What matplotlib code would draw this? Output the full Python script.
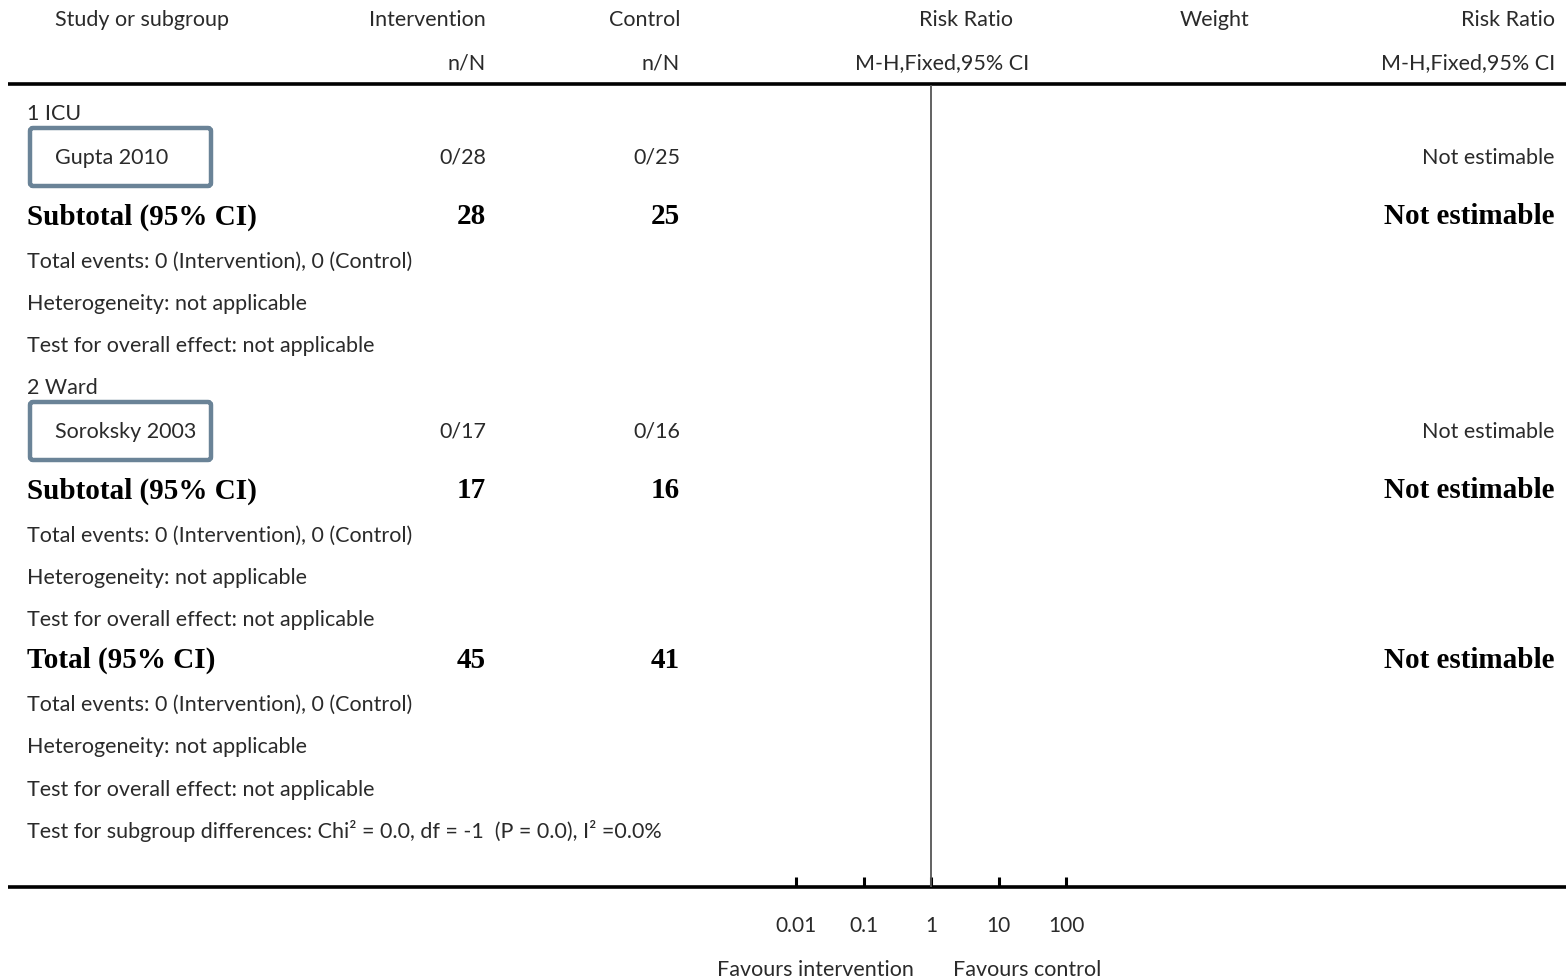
import matplotlib.pyplot as plt
from matplotlib.patches import FancyBboxPatch

# data
subgroups = ["1 ICU", "2 Ward"]
studies = ["Gupta 2010", "Soroksky 2003"]
int_events = [0, 0]
int_total = [28, 17]
ctl_events = [0, 0]
ctl_total = [25, 16]
rr_ticks = [0.01, 0.1, 1, 10, 100]
rr_labels = ["0.01", "0.1", "1", "10", "100"]

W, H = 1566, 977
fig = plt.figure(figsize=(W / 100, H / 100), dpi=100)
ax = fig.add_axes([0, 0, 1, 1])
ax.set_xlim(0, W)
ax.set_ylim(H, 0)
ax.axis("off")

sans = "Lato"
serif = "Liberation Serif"
col = "#2a2a2a"
fs = 15.5
bfs = 21

def txt(x, y, s, ha="left", bold=False, **kw):
    if bold:
        ax.text(x, y + 2, s, ha=ha, va="center", fontsize=bfs, fontweight="bold",
                family=serif, color="black", **kw)
    else:
        ax.text(x, y + 1.5, s, ha=ha, va="center", fontsize=fs, family=sans,
                color=col, **kw)

# header
txt(55, 19, "Study or subgroup")
txt(486, 19, "Intervention", ha="right")
txt(486, 62, "n/N", ha="right")
txt(680, 19, "Control", ha="right")
txt(680, 62, "n/N", ha="right")
txt(966, 19, "Risk Ratio", ha="center")
txt(942, 62, "M-H,Fixed,95% CI", ha="center")
txt(1215, 19, "Weight", ha="center")
txt(1555, 19, "Risk Ratio", ha="right")
txt(1555, 62, "M-H,Fixed,95% CI", ha="right")
ax.plot([8, W], [84, 84], color="black", lw=2.6, solid_capstyle="butt")

het = ["Total events: 0 (Intervention), 0 (Control)",
       "Heterogeneity: not applicable",
       "Test for overall effect: not applicable"]

ys = [113, 387]
for i in range(len(subgroups)):
    y0 = ys[i]
    txt(27, y0, subgroups[i])
    box = FancyBboxPatch((30, y0 + 15), 181, 58, boxstyle="round,pad=0,rounding_size=3",
                         fill=False, ec="#6a8397", lw=3.2)
    ax.add_patch(box)
    txt(55, y0 + 43, studies[i])
    txt(486, y0 + 43, f"{int_events[i]}/{int_total[i]}", ha="right")
    txt(680, y0 + 43, f"{ctl_events[i]}/{ctl_total[i]}", ha="right")
    txt(1555, y0 + 43, "Not estimable", ha="right")
    txt(27, y0 + 102, "Subtotal (95% CI)", bold=True)
    txt(486, y0 + 102, str(int_total[i]), ha="right", bold=True)
    txt(680, y0 + 102, str(ctl_total[i]), ha="right", bold=True)
    txt(1555, y0 + 102, "Not estimable", ha="right", bold=True)
    for k, s in enumerate(het):
        txt(27, y0 + 147 + 42.3 * k, s)

txt(27, 658, "Total (95% CI)", bold=True)
txt(486, 658, str(sum(int_total)), ha="right", bold=True)
txt(680, 658, str(sum(ctl_total)), ha="right", bold=True)
txt(1555, 658, "Not estimable", ha="right", bold=True)
for k, s in enumerate(het):
    txt(27, 703 + 42.5 * k, s)
txt(27, 830, "Test for subgroup differences: Chi² = 0.0, df = -1  (P = 0.0), I² =0.0%")

ax.plot([8, W], [887, 887], color="black", lw=2.6, solid_capstyle="butt")

# forest axis
fx = fig.add_axes([796 / W, (H - 887) / H, (1066 - 796) / W, (887 - 85) / H])
fx.set_xscale("log")
fx.set_xlim(0.01, 100)
fx.set_ylim(0, 1)
fx.patch.set_alpha(0)
for s in ["top", "right", "left", "bottom"]:
    fx.spines[s].set_visible(False)
fx.set_yticks([])
fx.set_xticks(rr_ticks)
fx.set_xticklabels(rr_labels, family=sans, fontsize=fs - 0.5, color=col)
fx.minorticks_off()
fx.tick_params(axis="x", direction="in", length=7, width=2.2, pad=21, color="black")
fx.axvline(1, color="#555555", lw=1.3)

txt(815, 968, "Favours intervention", ha="center")
txt(1027, 968, "Favours control", ha="center")

fig.savefig("out.png", dpi=100)
